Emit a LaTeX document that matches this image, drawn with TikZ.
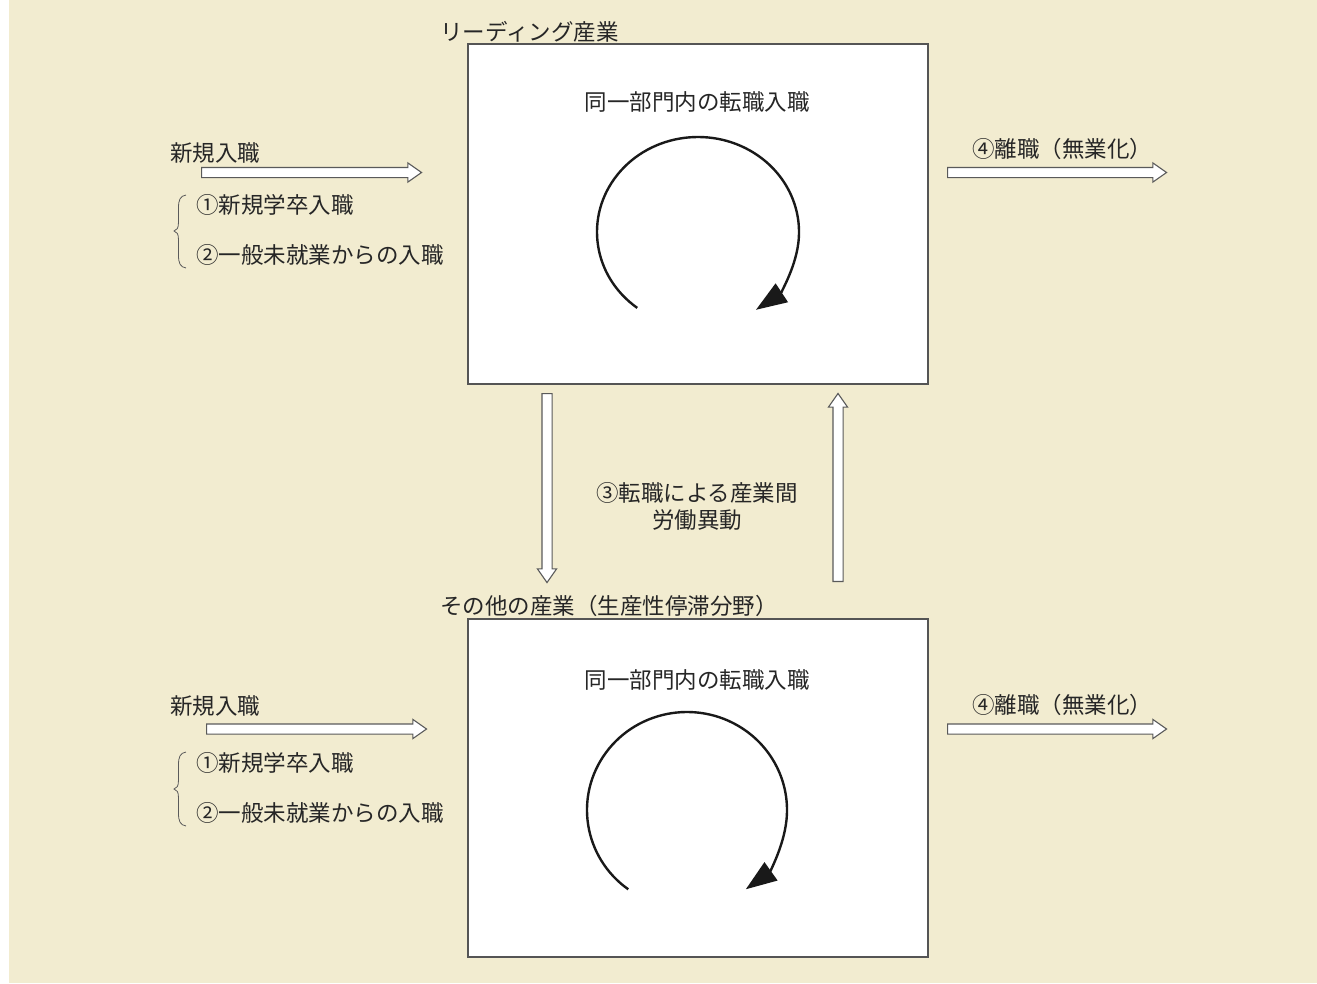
\documentclass[tikz,border=0pt]{standalone}
\usepackage{fontspec}
\newfontfamily\jp{Noto Sans CJK JP}
\usetikzlibrary{shapes.arrows,arrows.meta}
\definecolor{bg}{RGB}{242,236,208}
\definecolor{edge}{RGB}{85,85,85}
\definecolor{aedge}{RGB}{90,90,90}
\begin{document}
\begin{tikzpicture}[x=1pt,y=-1pt,
  lbl/.style={font=\jp\fontsize{22.5}{26}\selectfont, text=black!85, inner sep=0pt, anchor=west},
  clbl/.style={lbl, anchor=center},
  panel/.style={draw=edge, line width=1.5pt, fill=white},
  harrow/.style={single arrow, draw=aedge, line width=1.1pt, fill=white,
    minimum width=18pt, inner xsep=0pt, inner ysep=4.5pt,
    single arrow tip angle=70, single arrow head extend=4.5pt, anchor=tail},
  loop/.style={line width=2.4pt, black!90, -{Triangle[length=31pt,width=22pt]}},
  bracestyle/.style={line width=0.8pt, aedge}
]
\useasboundingbox (0,0) rectangle (1317,983);
\fill[bg] (9,0) rectangle (1317,983);

% ---------- top panel ----------
\node[panel, minimum width=460pt, minimum height=340pt, inner sep=0pt, anchor=north west] (top) at (467,43) {};
\node[lbl] (topT) at (440,32) {リーディング産業};
\node[clbl] (topIn) at (697,102) {同一部門内の転職入職};
\coordinate (c1) at (698,232);
\draw[loop] ([shift={(127:101 and 95)}]c1) arc[start angle=127, end angle=415, x radius=101, y radius=95];

\node[lbl] (newT1) at (170,153) {新規入職};
\node[harrow, minimum height=220pt] (inA1) at (201,172.5) {};
\node[lbl] (n1a) at (196,205) {①新規学卒入職};
\node[lbl] (n1b) at (196,255) {②一般未就業からの入職};
\coordinate (b1t) at (186,195);
\coordinate (b1m) at (174,231);
\coordinate (b1b) at (186,268);
\draw[bracestyle] (b1t) .. controls (180,196) and (178.5,200) .. (178.5,208) -- (178.5,222)
  .. controls (178.5,228) and (177,230.5) .. (b1m)
  .. controls (177,231.5) and (178.5,234) .. (178.5,240) -- (178.5,255)
  .. controls (178.5,263) and (180,267) .. (b1b);

\node[lbl] (outT1) at (972,149) {④離職（無業化）};
\node[harrow, minimum height=219pt] (outA1) at (947,172.5) {};

% ---------- middle ----------
\node[harrow, minimum height=189pt, rotate=-90] (down) at (547,393) {};
\node[harrow, minimum height=188pt, rotate=90] (up) at (838,582) {};
\node[clbl] (mid1) at (697,493) {③転職による産業間};
\node[clbl] (mid2) at (697,520) {労働異動};

% ---------- bottom panel ----------
\node[panel, minimum width=460pt, minimum height=338pt, inner sep=0pt, anchor=north west] (bot) at (467,618) {};
\node[lbl] (botT) at (440,606) {その他の産業（生産性停滞分野）};
\node[clbl] (botIn) at (697,680) {同一部門内の転職入職};
\coordinate (c2) at (687,810);
\draw[loop] ([shift={(126:100 and 98)}]c2) arc[start angle=126, end angle=414, x radius=100, y radius=98];

\node[lbl] (newT2) at (170,706) {新規入職};
\node[harrow, minimum height=220pt] (inA2) at (206,729) {};
\node[lbl] (n2a) at (196,763) {①新規学卒入職};
\node[lbl] (n2b) at (196,813) {②一般未就業からの入職};
\coordinate (b2t) at (186,752);
\coordinate (b2m) at (174,789);
\coordinate (b2b) at (186,826);
\draw[bracestyle] (b2t) .. controls (180,753) and (178.5,757) .. (178.5,765) -- (178.5,780)
  .. controls (178.5,786) and (177,788.5) .. (b2m)
  .. controls (177,789.5) and (178.5,792) .. (178.5,798) -- (178.5,813)
  .. controls (178.5,821) and (180,825) .. (b2b);

\node[lbl] (outT2) at (972,705) {④離職（無業化）};
\node[harrow, minimum height=219pt] (outA2) at (947,729) {};
\end{tikzpicture}
\end{document}
